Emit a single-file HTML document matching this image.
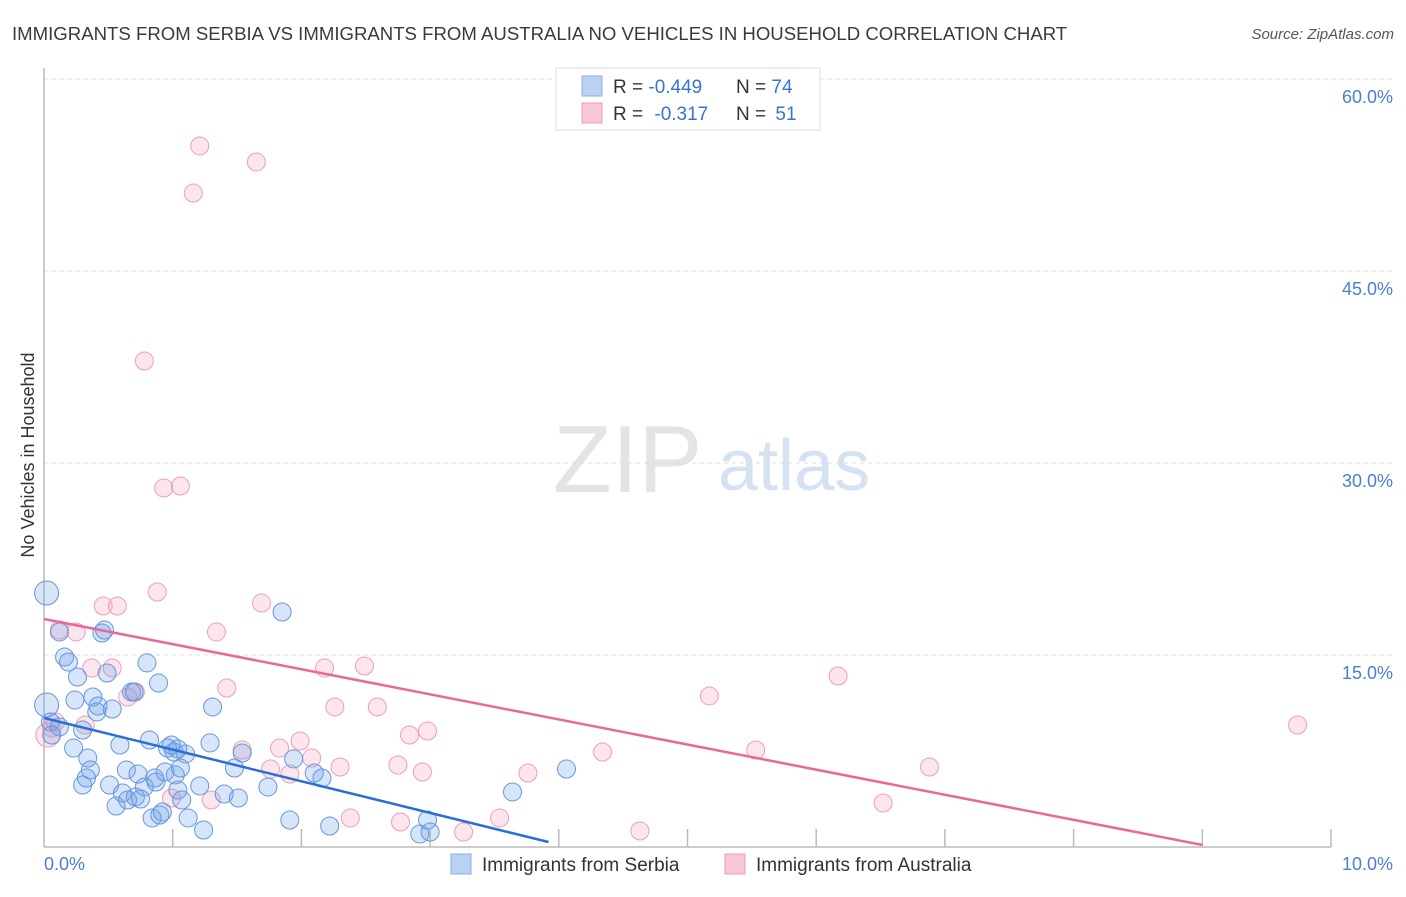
<!DOCTYPE html>
<html><head><meta charset="utf-8"><style>
body{margin:0;background:#fff;font-family:"Liberation Sans",sans-serif;}
svg text{font-family:"Liberation Sans",sans-serif;}
</style></head><body>
<svg id="chart" width="1406" height="892" viewBox="0 0 1406 892" xmlns="http://www.w3.org/2000/svg">
<text x="12" y="40" font-size="18.6" fill="#3a3a3a">IMMIGRANTS FROM SERBIA VS IMMIGRANTS FROM AUSTRALIA NO VEHICLES IN HOUSEHOLD CORRELATION CHART</text>
<text x="1394" y="39" font-size="15" fill="#555" font-style="italic" text-anchor="end">Source: ZipAtlas.com</text>
<g>
<text x="553" y="492" font-size="96" font-family="Liberation Serif" fill="#e4e4e4">ZIP</text>
<text x="718" y="490" font-size="72" fill="#d4e2f4">atlas</text>
</g>
<g id="grid"></g>
<g id="axes"></g>
<g id="marks"></g>
<g id="trends"></g>
<text transform="translate(34,455) rotate(-90)" font-size="18" fill="#333" text-anchor="middle">No Vehicles in Household</text>
<g>
<rect x="556" y="68" width="264" height="62" fill="#fff" stroke="#ddd"/>
<rect x="582" y="76" width="20" height="20" fill="#b9d2f4" stroke="#88aee6"/>
<rect x="582" y="103" width="20" height="20" fill="#f9c6d6" stroke="#ee9ab6"/>
<text x="613" y="93" font-size="19" fill="#333">R = <tspan fill="#3a73cf">-0.449</tspan></text>
<text x="736" y="93" font-size="19" fill="#333">N = <tspan fill="#3a73cf">74</tspan></text>
<text x="613" y="120" font-size="19" fill="#333">R = <tspan fill="#3a73cf" dx="6">-0.317</tspan></text>
<text x="736" y="120" font-size="19" fill="#333">N = <tspan fill="#3a73cf" dx="4">51</tspan></text>
</g>
<g>
<rect x="451" y="854" width="20" height="20" fill="#b9d2f4" stroke="#88aee6"/>
<text x="482" y="871" font-size="19" fill="#333">Immigrants from Serbia</text>
<rect x="725" y="854" width="20" height="20" fill="#f9c6d6" stroke="#ee9ab6"/>
<text x="756" y="871" font-size="19" fill="#333">Immigrants from Australia</text>
</g>
</svg>
<script>
const yTicks=[15,30,45,60];
const yTickLabels=["15.0%","30.0%","45.0%","60.0%"];
const xTicks=[1,2,3,4,5,6,7,8,9,10];
const serbiaX=[0.02,0.02,0.05,0.06,0.12,0.16,0.19,0.24,0.26,0.23,0.30,0.33,0.34,0.36,0.38,0.41,0.42,0.45,0.47,0.49,0.51,0.56,0.59,0.61,0.64,0.65,0.68,0.70,0.71,0.73,0.78,0.80,0.82,0.84,0.86,0.87,0.89,0.90,0.92,0.94,0.96,0.99,1.01,1.02,1.04,1.06,1.07,1.10,1.12,1.21,1.24,1.29,1.31,1.40,1.48,1.51,1.54,1.74,1.85,1.91,1.94,2.10,2.16,2.22,2.92,3.00,2.98,3.64,4.06,0.30,0.75,1.04,0.53,0.12];
const serbiaY=[19.84,11.09,9.77,8.75,16.8,14.84,14.45,11.48,13.28,7.73,4.84,5.39,6.95,6.02,11.72,10.55,11.02,16.72,16.95,13.59,4.84,3.2,7.97,4.22,6.02,3.67,12.11,12.11,3.91,5.70,4.69,14.38,8.36,2.27,5.39,5.08,12.81,2.5,2.73,5.86,7.73,7.97,7.42,5.63,4.45,6.17,3.67,7.27,2.27,4.77,1.33,8.13,10.94,4.14,6.17,3.83,7.34,4.69,18.36,2.11,6.88,5.78,5.39,1.64,1.02,1.17,2.11,4.30,6.09,9.14,3.75,7.66,10.78,9.38];
const australiaX=[0.03,0.06,0.09,0.12,0.25,0.32,0.37,0.46,0.53,0.57,0.65,0.71,0.78,0.88,0.93,0.99,1.06,1.16,1.21,1.30,1.34,1.42,1.54,1.65,1.69,1.76,1.83,1.91,1.99,2.08,2.18,2.26,2.30,2.38,2.49,2.59,2.77,2.75,2.84,2.94,2.98,3.26,3.54,3.76,4.34,4.63,5.17,5.53,6.17,6.52,6.88,9.74];
const australiaY=[8.75,9.30,9.77,16.95,16.8,9.53,13.98,18.83,13.98,18.83,11.72,12.11,37.97,19.92,28.05,3.83,28.2,51.09,54.77,3.67,16.8,12.42,7.58,53.52,19.06,6.09,7.73,5.70,8.28,6.95,13.98,10.94,6.25,2.27,14.14,10.94,1.95,6.41,8.75,5.86,9.06,1.17,2.27,5.78,7.42,1.25,11.8,7.58,13.36,3.44,6.25,9.53];
const serbiaTrend=[0,10.08,3.92,0.39];
const australiaTrend=[0,17.81,9.0,0.16];
const NS="http://www.w3.org/2000/svg";
const X0=44,X1=1331,Y0=847,YT=79;
function sx(v){return X0+(X1-X0)*v/10;}
function sy(v){return Y0-(Y0-YT)*v/60;}
function mk(tag,attrs,parent){const e=document.createElementNS(NS,tag);for(const k in attrs)e.setAttribute(k,attrs[k]);parent.appendChild(e);return e;}
const grid=document.getElementById('grid'),axes=document.getElementById('axes'),marks=document.getElementById('marks'),trends=document.getElementById('trends');
yTicks.forEach((t,i)=>{
  const l=mk('line',{x1:X0,x2:1394,y1:sy(t),y2:sy(t),stroke:'#ddd','stroke-dasharray':'4,4'},grid);
  
  
  const tx=mk('text',{x:1393,y:sy(t)+24,'font-size':18,fill:'#4a7fd4','text-anchor':'end'},axes);
  tx.textContent=yTickLabels[i];
  
  
});
mk('line',{x1:X0,x2:X0,y1:68,y2:Y0,stroke:'#bbb','stroke-width':1.5},axes);
mk('line',{x1:X0,x2:X1,y1:Y0,y2:Y0,stroke:'#bbb','stroke-width':1.5},axes);
xTicks.forEach(t=>{
  const l=mk('line',{x1:sx(t),x2:sx(t),y1:Y0,y2:Y0-18,stroke:'#bbb','stroke-width':1.5},axes);
  
  
});
const xl0=mk('text',{x:44,y:870,'font-size':18,fill:'#4a7fd4'},axes);xl0.textContent='0.0%';


const xl1=mk('text',{x:1393,y:870,'font-size':18,fill:'#4a7fd4','text-anchor':'end'},axes);xl1.textContent='10.0%';


australiaX.forEach((x,i)=>{
  const c=mk('circle',{cx:sx(x),cy:sy(australiaY[i]),r:i===0?12:9,fill:'rgba(244,160,190,0.28)',stroke:'#ee9eb9','stroke-width':1},marks);
  
  
});
serbiaX.forEach((x,i)=>{
  const c=mk('circle',{cx:sx(x),cy:sy(serbiaY[i]),r:i<2?12:9,fill:'rgba(110,160,230,0.28)',stroke:'#6796de','stroke-width':1},marks);
  
  
});
const t1=mk('line',{x1:sx(serbiaTrend[0]),y1:sy(serbiaTrend[1]),x2:sx(serbiaTrend[2]),y2:sy(serbiaTrend[3]),stroke:'#2a6fd6','stroke-width':2.5},trends);


const t2=mk('line',{x1:sx(australiaTrend[0]),y1:sy(australiaTrend[1]),x2:sx(australiaTrend[2]),y2:sy(australiaTrend[3]),stroke:'#e8689a','stroke-width':2.5},trends);


</script>
</body></html>
